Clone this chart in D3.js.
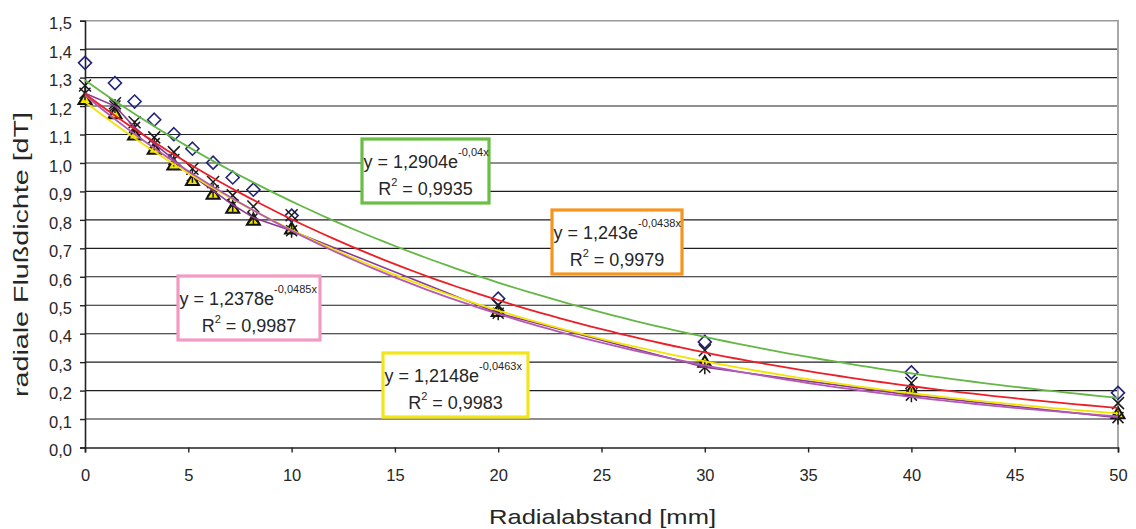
<!DOCTYPE html>
<html><head><meta charset="utf-8">
<script src="https://cdn.jsdelivr.net/npm/d3@7"></script>
<style>
html,body{margin:0;padding:0;background:#fff;}
text{font-family:"Liberation Sans",Arial,sans-serif;fill:#262626;}
</style></head>
<body><svg id="c" width="1136" height="529"></svg>
<script>
// ---------- data ----------
const xValues   = [0, 1.45, 2.4, 3.35, 4.3, 5.2, 6.2, 7.15, 8.15, 10, 20, 30, 40, 50];
const diamonds  = [1.352, 1.281, 1.216, 1.152, 1.101, 1.050, 1.001, 0.949, 0.906, 0.815, 0.523, 0.371, 0.264, 0.192];
const crosses   = [1.272, 1.210, 1.143, 1.090, 1.038, 0.980, 0.933, 0.886, 0.847, 0.816, 0.500, 0.342, 0.227, 0.156];
const asterisks = [1.245, 1.200, 1.125, 1.068, 1.012, 0.955, 0.903, 0.853, 0.808, 0.762, 0.472, 0.282, 0.184, 0.105];
const triangles = [1.225, 1.175, 1.100, 1.050, 0.995, 0.940, 0.892, 0.843, 0.800, 0.770, 0.480, 0.301, 0.200, 0.120];
const fitNames  = ["green", "orange", "pink", "yellow"];
const fitA      = [1.2904, 1.243, 1.2378, 1.2148];
const fitB      = [-0.04, -0.0438, -0.0485, -0.0463];
const fitEq     = ["y = 1,2904e", "y = 1,243e", "y = 1,2378e", "y = 1,2148e"];
const fitExp    = ["-0,04x", "-0,0438x", "-0,0485x", "-0,0463x"];
const fitR2     = ["0,9935", "0,9979", "0,9987", "0,9983"];
const xTicks    = [0, 5, 10, 15, 20, 25, 30, 35, 40, 45, 50];
const yTicks    = [0, 0.1, 0.2, 0.3, 0.4, 0.5, 0.6, 0.7, 0.8, 0.9, 1.0, 1.1, 1.2, 1.3, 1.4, 1.5];
const xTitle    = "Radialabstand [mm]";
const yTitle    = "radiale Flußdichte [dT]";

// ---------- layout / style ----------
const lineColor = {green:"#63b744", orange:"#ec1f26", pink:"#b45ab4", yellow:"#f2e400"};
const boxColor  = {green:"#6abd45", orange:"#f7941d", pink:"#f29ac2", yellow:"#f3e51a"};
const boxPos    = {green:[362,139,127,64], orange:[552,210,130,64], pink:[178,276,142,64], yellow:[383,353,145,64]};

const svg = d3.select("#c");
const x = d3.scaleLinear().domain([0,50]).range([85,1118]);
const y = d3.scaleLinear().domain([0,1.5]).range([447.5,20.7]);
const fmt = d => d3.format(".1f")(d).replace(".", ",");

// gridlines
svg.append("g").selectAll("line").data(yTicks.filter(d=>d>0 && d<1.5)).join("line")
  .attr("x1", x(0)).attr("x2", x(50)).attr("y1", d=>y(d)).attr("y2", d=>y(d))
  .attr("stroke", "#1e1e1e").attr("stroke-width", 1.1);
// plot border top/right
svg.append("line").attr("x1", x(0)).attr("x2", x(50)+1).attr("y1", y(1.5)).attr("y2", y(1.5))
  .attr("stroke", "#9a9a9a").attr("stroke-width", 1.6);
svg.append("line").attr("x1", x(50)).attr("x2", x(50)).attr("y1", y(1.5)).attr("y2", y(0))
  .attr("stroke", "#a8a8a8").attr("stroke-width", 2);

// axes
const yAxis = d3.axisLeft(y).tickValues(yTicks).tickFormat(fmt).tickSize(5).tickPadding(8);
const gy = svg.append("g").attr("transform", `translate(${x(0)},0)`).call(yAxis);
gy.select(".domain").attr("stroke", "#222").attr("stroke-width", 1.6);
gy.selectAll(".tick line").attr("stroke", "#222").attr("stroke-width", 1.4);
gy.selectAll(".tick text").attr("font-size", 16.5).attr("fill", "#262626").attr("dy", "0.5em")
  .attr("font-family", "Liberation Sans, Arial, sans-serif");

const xAxis = d3.axisBottom(x).tickValues(xTicks).tickFormat(d3.format("d")).tickSize(5).tickPadding(17);
const gx = svg.append("g").attr("transform", `translate(0,${y(0)})`).call(xAxis);
gx.select(".domain").attr("stroke", "#222").attr("stroke-width", 1.6);
gx.selectAll(".tick line").attr("stroke", "#222").attr("stroke-width", 1.4);
gx.selectAll(".tick text").attr("font-size", 16.5).attr("fill", "#262626")
  .attr("font-family", "Liberation Sans, Arial, sans-serif");

// titles
svg.append("text").attr("x", 602.5).attr("y", 524).attr("text-anchor", "middle")
  .attr("font-size", 21).attr("textLength", 227).attr("lengthAdjust", "spacingAndGlyphs").text(xTitle);
svg.append("text").attr("transform", "translate(28,254.5) rotate(-90)").attr("text-anchor", "middle")
  .attr("font-size", 20.5).attr("textLength", 285).attr("lengthAdjust", "spacingAndGlyphs").text(yTitle);

// markers
const pts = arr => xValues.map((v,i)=>[v, arr[i]]);
const mk = svg.append("g");
// triangles
mk.selectAll("path.tri").data(pts(triangles)).join("path").attr("class","tri")
  .attr("transform", d=>`translate(${x(d[0])},${y(d[1])})`)
  .attr("d", "M0,-6L6.5,5L-6.5,5Z").attr("fill", "#f5e600").attr("stroke", "#111").attr("stroke-width", 2);
// diamonds
mk.selectAll("path.dia").data(pts(diamonds)).join("path").attr("class","dia")
  .attr("transform", d=>`translate(${x(d[0])},${y(d[1])})`)
  .attr("d", "M0,-6.5L6.5,0L0,6.5L-6.5,0Z").attr("fill", "none").attr("stroke", "#23237a").attr("stroke-width", 1.6);
// crosses
mk.selectAll("path.crs").data(pts(crosses)).join("path").attr("class","crs")
  .attr("transform", d=>`translate(${x(d[0])},${y(d[1])})`)
  .attr("d", "M-6,-6L6,6M-6,6L6,-6").attr("fill", "none").attr("stroke", "#1a1a1a").attr("stroke-width", 1.5);
// asterisks
mk.selectAll("path.ast").data(pts(asterisks)).join("path").attr("class","ast")
  .attr("transform", d=>`translate(${x(d[0])},${y(d[1])})`)
  .attr("d", "M-5.5,-5.5L5.5,5.5M-5.5,5.5L5.5,-5.5M0,-7L0,7").attr("fill", "none").attr("stroke", "#1a1a1a").attr("stroke-width", 1.5);

// connecting purple line of asterisk series
svg.append("path").datum(pts(asterisks))
  .attr("d", d3.line().x(d=>x(d[0])).y(d=>y(d[1])))
  .attr("fill", "none").attr("stroke", "#8b3a91").attr("stroke-width", 1.6);

// trendlines
const order = [3, 2, 1, 0];
order.forEach(i => {
  const xs = d3.range(0, 50.001, 0.5);
  svg.append("path").datum(xs)
    .attr("d", d3.line().x(v=>x(v)).y(v=>y(fitA[i]*Math.exp(fitB[i]*v))))
    .attr("fill", "none").attr("stroke", lineColor[fitNames[i]]).attr("stroke-width", 1.8);
});

// label boxes
fitNames.forEach((n,i) => {
  const [bx,by,bw,bh] = boxPos[n];
  const g = svg.append("g");
  g.append("rect").attr("x", bx).attr("y", by).attr("width", bw).attr("height", bh)
    .attr("fill", "#fff").attr("stroke", boxColor[n]).attr("stroke-width", 3.2);
  const t1 = g.append("text").attr("x", bx+1.5).attr("y", by+29).attr("font-size", 18);
  t1.append("tspan").text(fitEq[i]);
  t1.append("tspan").attr("font-size", 11).attr("dy", -12).text(fitExp[i]);
  const t2 = g.append("text").attr("x", bx+bw/2).attr("y", by+56).attr("font-size", 18).attr("text-anchor", "middle");
  t2.append("tspan").text("R");
  t2.append("tspan").attr("font-size", 11).attr("dy", -9).text("2");
  t2.append("tspan").attr("dy", 9).text(" = " + fitR2[i]);
});
</script></body></html>
